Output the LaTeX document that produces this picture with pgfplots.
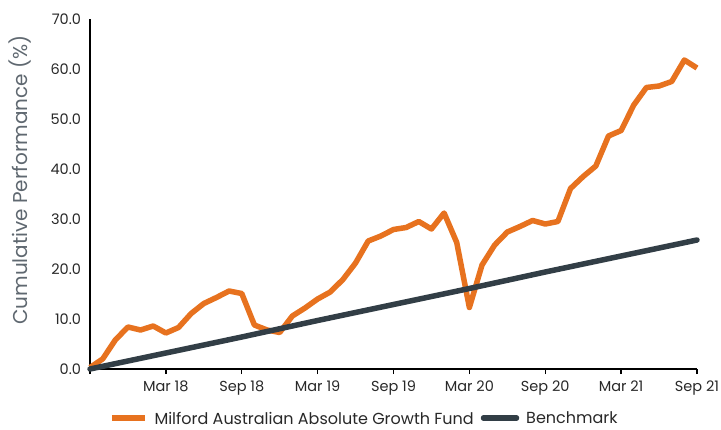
\documentclass[border=0pt]{standalone}
\usepackage{fontspec}
\setmainfont{Poppins}
\usepackage{pgfplots}
\pgfplotsset{compat=1.18}
\definecolor{mforange}{RGB}{231,114,31}
\definecolor{mfdark}{RGB}{50,62,70}
\definecolor{labgray}{RGB}{95,104,112}
\definecolor{tickgray}{RGB}{40,40,40}
\begin{document}
\begin{tikzpicture}
\useasboundingbox (-90bp,-61bp) rectangle (631bp,369bp);
\begin{axis}[
  at={(0,0)}, anchor=south west,
  scale only axis, width=607bp, height=350bp,
  xmin=0, xmax=48, ymin=0, ymax=70,
  axis x line=bottom, axis y line=left,
  axis line style={line width=1.4bp, black, -},
  xtick={0,6,12,18,24,30,36,42,48},
  xticklabels={,Mar 18,Sep 18,Mar 19,Sep 19,Mar 20,Sep 20,Mar 21,Sep 21},
  ytick={0,10,...,70},
  /pgf/number format/fixed, /pgf/number format/fixed zerofill, /pgf/number format/precision=1,
  /pgf/number format/assume math mode=true,
  y tick label style={font=\fontsize{14.5bp}{16bp}\selectfont, text=tickgray, xshift=-3bp},
  x tick label style={font=\fontsize{14.5bp}{16bp}\selectfont, text=tickgray, yshift=-3bp},
  x tick style={black, line width=1.4bp},
  xtick align=outside,
  major tick length=5bp,
  y tick style={draw=none},
  ylabel={Cumulative Performance (\%)},
  ylabel style={font=\fontsize{20bp}{22bp}\selectfont, text=labgray, at={(rel axis cs:0,0.54)}, anchor=center, yshift=70bp},
  clip=false,
  legend columns=2,
  legend style={draw=none, fill=none, inner sep=0pt, at={(rel axis cs:0.031,-0.140)}, anchor=west,
    font=\fontsize{16bp}{18bp}\selectfont, text=tickgray,
    nodes={inner ysep=0pt, text depth=0pt},
    /tikz/every odd column/.append style={column sep=5bp},
    /tikz/every even column/.append style={column sep=5bp}},
  legend cell align=left,
  legend image code/.code={\draw[#1, line width=5.5bp] (0bp,0bp) -- (33bp,0bp);},
]
\addplot[mforange, line width=5.5bp, line join=round] coordinates {
(0,0.3) (1,2.0) (2,5.8) (3,8.4) (4,7.8) (5,8.6) (6,7.2) (7,8.3) (8,11.1) (9,13.1) (10,14.3) (11,15.6) (12,15.1)
(13,8.8) (14,7.8) (15,7.3) (16,10.6) (17,12.2) (18,14.0) (19,15.4) (20,17.9) (21,21.2) (22,25.6) (23,26.6) (24,27.9)
(25,28.3) (26,29.5) (27,28.0) (28,31.2) (29,25.3) (30,12.3) (31,20.8) (32,24.8) (33,27.4) (34,28.5) (35,29.7)
(36,29.0) (37,29.5) (38,36.1) (39,38.5) (40,40.6) (41,46.6) (42,47.7) (43,52.8) (44,56.3) (45,56.6) (46,57.5)
(47,61.8) (48,60.2)
};
\addlegendentry{Milford Australian Absolute Growth Fund}
\addplot[mfdark, line width=5.5bp, line cap=round] coordinates {
(0,0) (6,3.2) (12,6.4) (18,9.7) (24,12.9) (30,16.1) (36,19.4) (42,22.6) (48,25.8)
};
\addlegendentry{Benchmark}
\end{axis}
\end{tikzpicture}
\end{document}
